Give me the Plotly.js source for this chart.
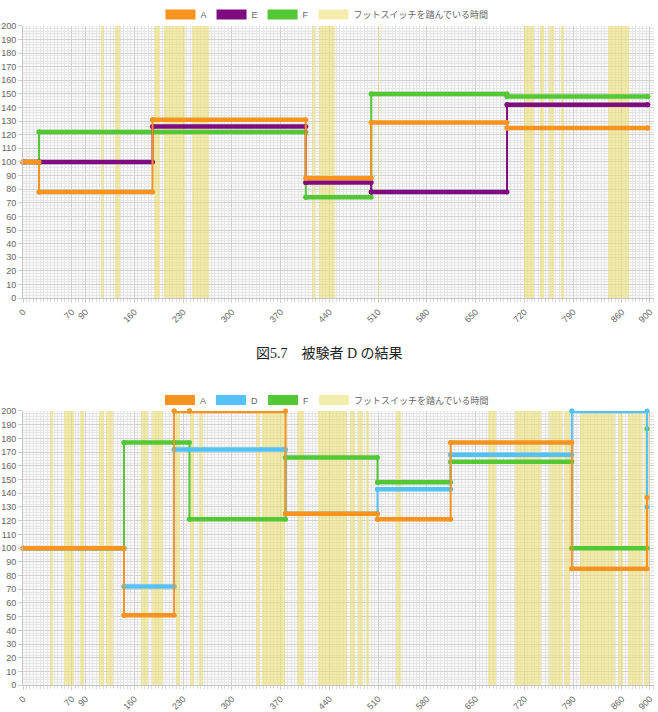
<!DOCTYPE html>
<html><head><meta charset="utf-8">
<script src="https://cdn.plot.ly/plotly-3.0.1.min.js"></script>
<style>html,body{margin:0;padding:0;background:#fff}#chart{width:658px;height:712px}</style>
</head><body><div id="chart"></div><script>
// ---- axis ticks ----
const tickVals = [0, 70, 90, 160, 230, 300, 370, 440, 510, 580, 650, 720, 790, 860, 900];
const tickLabels = ['0', '70', '90', '160', '230', '300', '370', '440', '510', '580', '650', '720', '790', '860', '900'];

// ---- chart 1 (A, E, F) step series: time of change and value from then on ----
const time1 = [0, 23, 186, 406, 500, 695, 897];
const seriesA1 = [100, 78, 131, 88, 129, 125, 125];
const seriesE1 = [100, 100, 126, 85, 78, 142, 142];
const seriesF1 = [100, 122, 122, 74, 150, 148, 148];
// foot switch pressed intervals (start, end)
const switchStart1 = [112.7, 132.8, 188.8, 202, 243, 414.4, 425.3, 509.7, 718.7, 741.7, 755.2, 772.4, 840];
const switchEnd1   = [117, 139.6, 197.4, 231.9, 266.8, 419.2, 448, 511.6, 733, 748.3, 761.7, 777.2, 870.6];

// ---- chart 2 (A, D, F) ----
const time2 = [0, 145, 217, 239, 377, 509, 614, 788, 896];
const seriesA2 = [100, 51, 200, 200, 125, 121, 177, 85, 137];
const seriesD2 = [100, 72, 172, 172, 125, 143, 168, 200, 130];
const seriesF2 = [100, 177, 177, 121, 166, 148, 163, 100, 187];
const switchStart2 = [38.8, 59.3, 82.1, 109.7, 119.2, 169.7, 185.2, 219, 239.3, 253, 334.2, 343.5, 394.1, 423.5, 468.8, 481, 492.5, 535.5, 668.3, 705.8, 755.2, 776.7, 799.7, 854.3, 868.6, 891.6];
const switchEnd2   = [43.5, 73.2, 87.6, 116.3, 129.9, 179.5, 200.3, 225.4, 244.8, 258.4, 340.3, 376.6, 404, 464.9, 476.4, 488.7, 497.2, 542.7, 679.8, 744.4, 774.6, 785.4, 850.7, 861.5, 888.7, 898.8];

const switchName = 'フットスイッチを踏んでいる時間';
const caption = '図5.7　被験者 D の結果';
const yMax = 200;

const ORANGE = 'rgb(247,147,30)';
const PURPLE = 'rgb(128,10,128)';
const GREEN = 'rgb(82,200,52)';
const BLUE = 'rgb(84,194,248)';
const YELLOW = 'rgba(236,222,105,0.55)';

function bandTrace(starts, ends, xa, ya) {
  return {
    type: 'bar', x: starts, y: starts.map(() => yMax), base: 0,
    width: starts.map((s, i) => ends[i] - s), offset: 0,
    marker: {color: YELLOW, line: {width: 0}},
    xaxis: xa, yaxis: ya, showlegend: false, hoverinfo: 'skip'
  };
}
// thin stepped line (vertical transitions) + points
function stepTrace(t, v, color, xa, ya) {
  return {
    type: 'scatter', mode: 'lines+markers', x: t, y: v,
    line: {shape: 'hv', width: 2, color: color},
    marker: {size: 5, color: color},
    xaxis: xa, yaxis: ya, showlegend: false, cliponaxis: false
  };
}
// thick horizontal levels of the same step series
function levelTrace(t, v, color, xa, ya) {
  const xs = [], ys = [];
  for (let i = 0; i < t.length - 1; i++) {
    xs.push(t[i], t[i + 1], null);
    ys.push(v[i], v[i], null);
  }
  return {
    type: 'scatter', mode: 'lines+markers', x: xs, y: ys,
    line: {width: 4.5, color: color},
    marker: {size: 5, color: color},
    xaxis: xa, yaxis: ya, showlegend: false, cliponaxis: false
  };
}
function series(t, v, color, xa, ya) {
  return [stepTrace(t, v, color, xa, ya), levelTrace(t, v, color, xa, ya)];
}
function legendTrace(name, color, xa, ya, lg) {
  return {
    type: 'scatter', mode: 'lines', x: [null], y: [null], name: name,
    line: {width: 10, color: color}, xaxis: xa, yaxis: ya, legend: lg, showlegend: true
  };
}

const data = [].concat(
  [bandTrace(switchStart1, switchEnd1, 'x', 'y')],
  series(time1, seriesF1, GREEN, 'x', 'y'),
  series(time1, seriesE1, PURPLE, 'x', 'y'),
  series(time1, seriesA1, ORANGE, 'x', 'y'),
  [legendTrace('A', ORANGE, 'x', 'y', 'legend'),
   legendTrace('E', PURPLE, 'x', 'y', 'legend'),
   legendTrace('F', GREEN, 'x', 'y', 'legend'),
   legendTrace(switchName, YELLOW, 'x', 'y', 'legend')],

  [bandTrace(switchStart2, switchEnd2, 'x2', 'y2')],
  series(time2, seriesF2, GREEN, 'x2', 'y2'),
  series(time2, seriesD2, BLUE, 'x2', 'y2'),
  series(time2, seriesA2, ORANGE, 'x2', 'y2'),
  [legendTrace('A', ORANGE, 'x2', 'y2', 'legend2'),
   legendTrace('D', BLUE, 'x2', 'y2', 'legend2'),
   legendTrace('F', GREEN, 'x2', 'y2', 'legend2'),
   legendTrace(switchName, YELLOW, 'x2', 'y2', 'legend2')]
);

const W = 658, H = 712;
function xAxis(anchor) {
  return {
    domain: [23 / W, 654 / W], anchor: anchor, range: [0, 906],
    tickmode: 'array', tickvals: tickVals, ticktext: tickLabels, tickangle: -45,
    showgrid: true, gridcolor: '#d2d2d2', zeroline: false,
    ticks: 'outside', ticklen: 4, tickcolor: '#cfcfcf',
    showline: true, linecolor: '#c4c4c4',
    tickfont: {size: 9, color: '#666'},
    minor: {tickmode: 'linear', tick0: 0, dtick: 5, showgrid: true, gridcolor: '#e6e6e6', ticks: 'outside', ticklen: 3, tickcolor: '#dcdcdc'},
    fixedrange: true
  };
}
function yAxis(anchor, top, bottom) {
  return {
    domain: [1 - bottom / H, 1 - top / H], anchor: anchor, range: [0, yMax],
    tickmode: 'linear', tick0: 0, dtick: 10,
    showgrid: true, gridcolor: '#d2d2d2', zeroline: false,
    ticks: 'outside', ticklen: 4, tickcolor: '#cfcfcf',
    showline: true, linecolor: '#c4c4c4',
    tickfont: {size: 9, color: '#666'},
    minor: {tickmode: 'linear', tick0: 0, dtick: 2, showgrid: true, gridcolor: '#e6e6e6'},
    fixedrange: true
  };
}
const legendBase = {
  orientation: 'h', xanchor: 'center', x: 0.497, yanchor: 'middle',
  font: {size: 9, color: '#666', family: 'Liberation Sans, Noto Sans CJK JP, sans-serif'},
  bgcolor: 'rgba(0,0,0,0)', itemclick: false, itemdoubleclick: false
};

const layout = {
  width: W, height: H, margin: {l: 0, r: 0, t: 0, b: 0},
  paper_bgcolor: '#fff', plot_bgcolor: '#fafafa',
  font: {family: 'Liberation Sans, Noto Sans CJK JP, sans-serif', size: 9, color: '#666'},
  barmode: 'overlay', bargap: 0,
  xaxis: xAxis('y'), yaxis: yAxis('x', 19, 294),
  xaxis2: xAxis('y2'), yaxis2: yAxis('x2', 408, 685),
  legend: Object.assign({}, legendBase, {y: 1 - 7.5 / H}),
  legend2: Object.assign({}, legendBase, {y: 1 - 397 / H}),
  annotations: [{
    text: caption, xref: 'paper', yref: 'paper', x: 0.5, y: 1 - 350 / H,
    xanchor: 'center', yanchor: 'middle', showarrow: false,
    font: {family: 'Liberation Serif, Noto Sans CJK JP, serif', size: 14, color: '#222'}
  }]
};

Plotly.newPlot('chart', data, layout, {staticPlot: true, displayModeBar: false});
</script></body></html>
